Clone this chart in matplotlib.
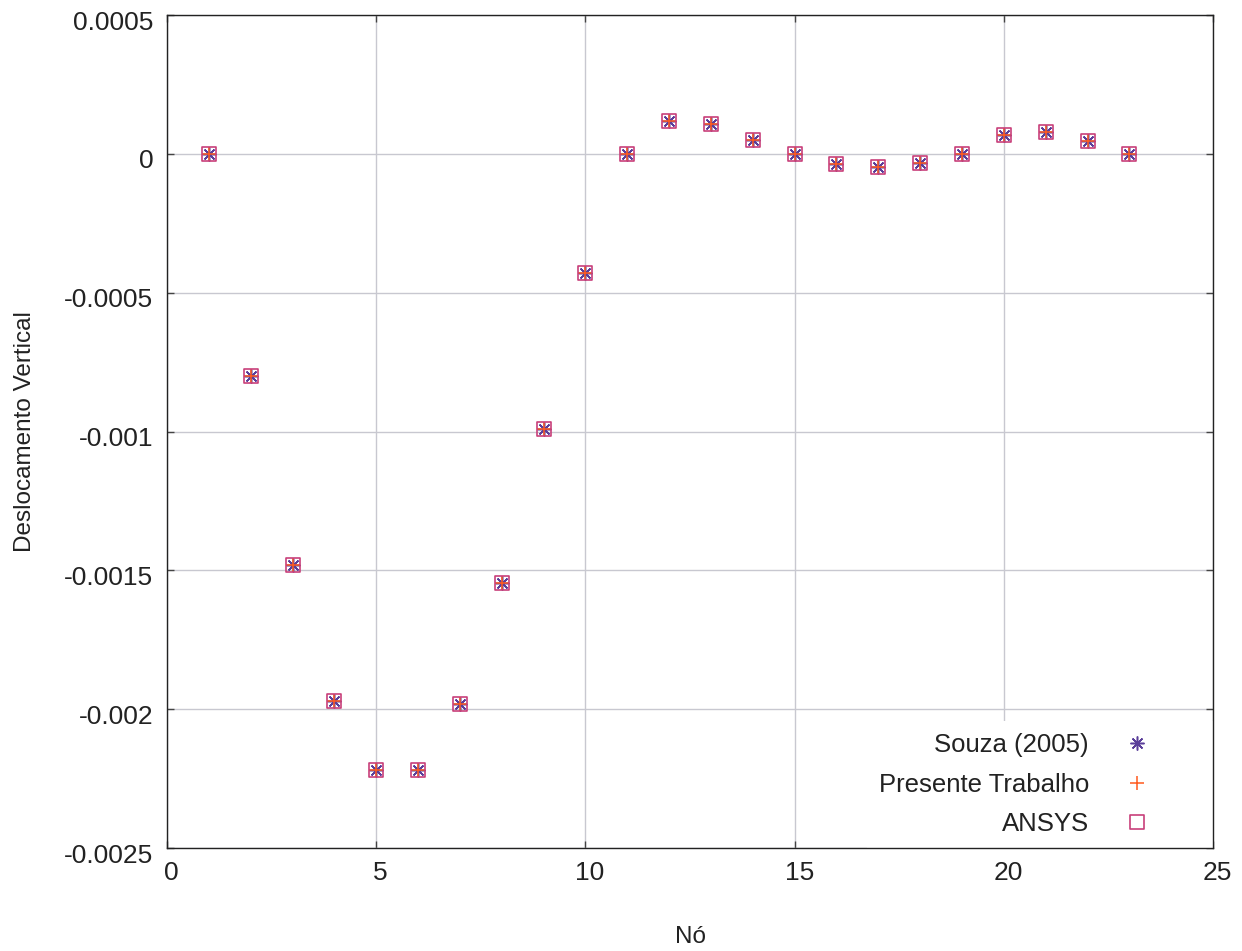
import matplotlib
matplotlib.use("Agg")
import matplotlib.pyplot as plt
from matplotlib.ticker import FuncFormatter
from matplotlib.path import Path
from matplotlib.transforms import ScaledTranslation

plt.rcParams['font.family'] = ['Liberation Sans', 'DejaVu Sans']

nodes = list(range(1, 24))
desloc = [0.0, -0.0008, -0.00148, -0.00197, -0.00222, -0.00222, -0.00198,
          -0.001545, -0.00099, -0.000428, 0.0, 0.000119, 0.000108, 0.00005,
          0.0, -0.000036, -0.000047, -0.000032, 0.0, 0.000068, 0.000079,
          0.000047, 0.0]
souza = desloc
presente = desloc
ansys = desloc

series_labels = ["Souza (2005)", "Presente Trabalho", "ANSYS"]
xticks = [0, 5, 10, 15, 20, 25]
yticks = [-0.0025, -0.002, -0.0015, -0.001, -0.0005, 0, 0.0005]

# square with a tiny dot in the centre (gnuplot "box with dot")
d = 0.03
sq_verts = [(-1, -1), (1, -1), (1, 1), (-1, 1), (-1, -1),
            (-d, -d), (d, -d), (d, d), (-d, d), (-d, -d)]
sq_codes = [Path.MOVETO, Path.LINETO, Path.LINETO, Path.LINETO, Path.CLOSEPOLY,
            Path.MOVETO, Path.LINETO, Path.LINETO, Path.LINETO, Path.CLOSEPOLY]
box_dot = Path(sq_verts, sq_codes)

fig = plt.figure(figsize=(12.42, 9.51), dpi=100)
ax = fig.add_axes([0.1345, 0.1083, 0.8422, 0.8759])

ax.plot(nodes, souza, linestyle='none', marker=(8, 2, 0), markersize=10,
        markeredgecolor='#5b3f9a', markeredgewidth=1.1, label=series_labels[0], zorder=3)
ax.plot(nodes, presente, linestyle='none', marker='+', markersize=10.5,
        markeredgecolor='#ff5a1e', markeredgewidth=1.1, label=series_labels[1], zorder=4)
ax.plot(nodes, ansys, linestyle='none', marker=box_dot, markersize=10.5,
        markerfacecolor='none', markeredgecolor='#c8407a', markeredgewidth=1.2,
        label=series_labels[2], zorder=5)

ax.set_xlim(0, 25)
ax.set_ylim(-0.0025, 0.0005)
ax.set_xticks(xticks)
ax.set_yticks(yticks)

def yfmt(v, pos):
    if abs(v) < 1e-12:
        return "0"
    return ("%g" % v)
ax.yaxis.set_major_formatter(FuncFormatter(yfmt))

ax.grid(True, color='#c8c8d0', linewidth=1.0)
ax.set_axisbelow(True)
ax.tick_params(direction='in', length=5, width=1.0, labelsize=19,
               colors='#444444', labelcolor='#222222',
               top=True, right=True)
ax.tick_params(axis='y', pad=10)
ax.tick_params(axis='x', pad=9)
for sp in ax.spines.values():
    sp.set_color('#222222')
    sp.set_linewidth(1.0)
    sp.set_zorder(10)

# gnuplot-like small offsets of the tick labels
for lab in ax.get_xticklabels():
    lab.set_transform(lab.get_transform() + ScaledTranslation(4.5 / 100, 0, fig.dpi_scale_trans))
for lab in ax.get_yticklabels():
    lab.set_transform(lab.get_transform() + ScaledTranslation(0, -5 / 100, fig.dpi_scale_trans))

ax.set_xlabel("Nó", fontsize=17.5, color='#222222', labelpad=30)
ax.set_ylabel("Deslocamento Vertical", fontsize=17.5, color='#222222', labelpad=20)

leg = ax.legend(loc='lower right', markerfirst=False, frameon=True, fontsize=18.5,
                handletextpad=-0.62, labelspacing=0.62, borderpad=0.45,
                borderaxespad=0.0, handlelength=5.0)
leg.get_frame().set_facecolor('white')
leg.get_frame().set_edgecolor('none')
leg.get_frame().set_alpha(1.0)
leg.get_frame().set_boxstyle('square', pad=0)
leg.set_zorder(6)
for t in leg.get_texts():
    t.set_ha('right')
    t.set_color('#222222')

fig.savefig("out.png", dpi=100)
